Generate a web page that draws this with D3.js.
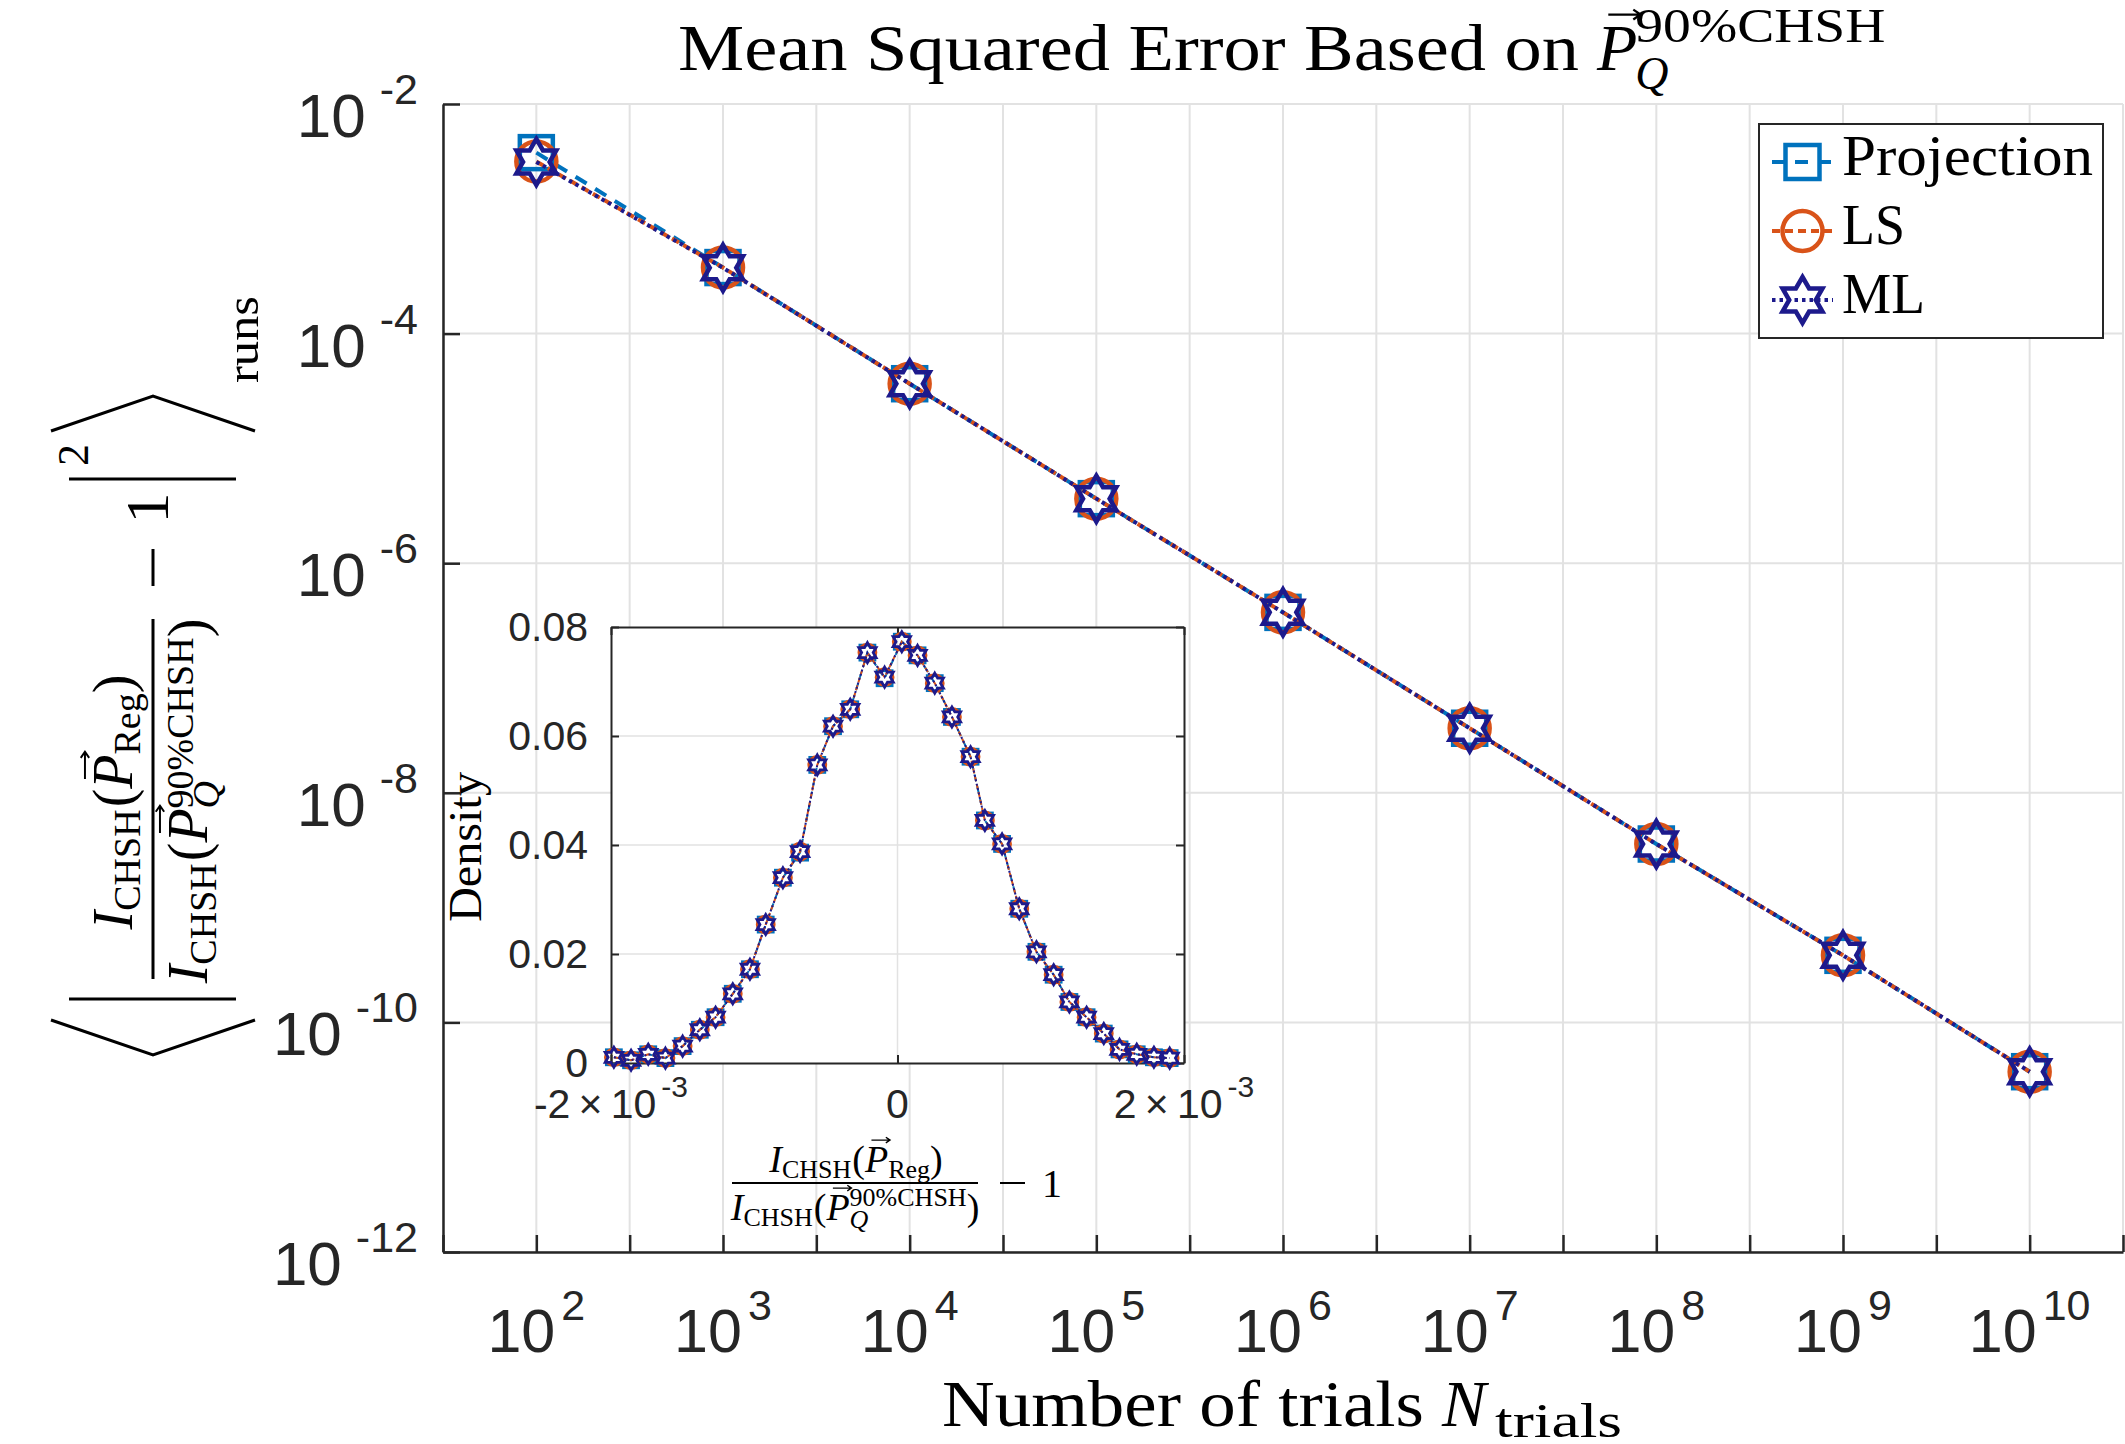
<!DOCTYPE html>
<html><head><meta charset="utf-8">
<script src="https://cdn.jsdelivr.net/npm/d3@7"></script>
<style>body{margin:0;background:#fff}svg{display:block}</style>
</head><body>
<svg id="chart" width="2125" height="1444"></svg>
<script>
// ---------------- data ----------------
const trials = [1e2, 1e3, 1e4, 1e5, 1e6, 1e7, 1e8, 1e9, 1e10];
const mseProjection = [3.77e-3, 3.76e-4, 3.66e-5, 3.65e-6, 3.73e-7, 3.65e-8, 3.58e-9, 3.84e-10, 3.72e-11];
const mseLS         = [3.15e-3, 3.76e-4, 3.66e-5, 3.65e-6, 3.73e-7, 3.65e-8, 3.58e-9, 3.84e-10, 3.72e-11];
const mseML         = [3.13e-3, 3.74e-4, 3.66e-5, 3.65e-6, 3.73e-7, 3.65e-8, 3.58e-9, 3.84e-10, 3.72e-11];
const seriesNames = ["Projection", "LS", "ML"];

const xTickExponents = [1.5, 2, 2.5, 3, 3.5, 4, 4.5, 5, 5.5, 6, 6.5, 7, 7.5, 8, 8.5, 9, 9.5, 10, 10.5];
const xLabelExponents = [2, 3, 4, 5, 6, 7, 8, 9, 10];
const xLabelSup = ["2", "3", "4", "5", "6", "7", "8", "9", "10"];
const yTickExponents = [-2, -4, -6, -8, -10, -12];
const yLabelSup = ["-2", "-4", "-6", "-8", "-10", "-12"];

// inset histogram (relative deviation vs density)
const insetX = [-1.98e-3, -1.86e-3, -1.74e-3, -1.62e-3, -1.50e-3, -1.38e-3, -1.27e-3, -1.15e-3, -1.03e-3, -0.92e-3,
                -0.80e-3, -0.68e-3, -0.56e-3, -0.45e-3, -0.33e-3, -0.21e-3, -0.09e-3, 0.03e-3, 0.14e-3, 0.26e-3,
                0.38e-3, 0.51e-3, 0.61e-3, 0.73e-3, 0.85e-3, 0.97e-3, 1.09e-3, 1.20e-3, 1.32e-3, 1.44e-3,
                1.55e-3, 1.67e-3, 1.79e-3, 1.90e-3];
const densityProjection = [0.00105, 0.0005, 0.0016, 0.0009, 0.0031, 0.0061, 0.0084, 0.0127, 0.0172, 0.0254,
                0.0340, 0.0386, 0.0547, 0.0618, 0.0649, 0.0753, 0.0706, 0.0773, 0.0748, 0.0697,
                0.0635, 0.0562, 0.0445, 0.0402, 0.0283, 0.0204, 0.0162, 0.0112, 0.0084, 0.0054,
                0.0025, 0.0016, 0.00105, 0.0009];
const densityLS = [0.00105, 0.0005, 0.0016, 0.0009, 0.0031, 0.0061, 0.0084, 0.0127, 0.0172, 0.0254,
                0.0340, 0.0388, 0.0547, 0.0618, 0.0649, 0.0753, 0.0708, 0.0773, 0.0748, 0.0697,
                0.0635, 0.0562, 0.0445, 0.0402, 0.0283, 0.0204, 0.0162, 0.0112, 0.0084, 0.0054,
                0.0025, 0.0016, 0.00105, 0.0009];
const densityML = [0.00105, 0.0005, 0.0016, 0.0009, 0.0031, 0.0061, 0.0084, 0.0127, 0.0172, 0.0254,
                0.0340, 0.0388, 0.0547, 0.0618, 0.0649, 0.0753, 0.0708, 0.0773, 0.0748, 0.0697,
                0.0635, 0.0562, 0.0445, 0.0402, 0.0283, 0.0204, 0.0162, 0.0112, 0.0084, 0.0054,
                0.0025, 0.0016, 0.00105, 0.0009];
const insetYTicks = [0, 0.02, 0.04, 0.06, 0.08];
const insetYLabels = ["0", "0.02", "0.04", "0.06", "0.08"];
const insetXTicks = [-2e-3, 0, 2e-3];
const insetXLabelBase = ["-2\u2009\u00D7\u200910", "0", "2\u2009\u00D7\u200910"];
const insetXLabelSup = ["-3", "", "-3"];

// ---------------- setup ----------------
const SERIF = "'Liberation Serif','Times New Roman',serif";
const SANS = "'Liberation Sans',Arial,Helvetica,sans-serif";
const AX = "#262626", GRID = "#e2e2e2";
const colors = {Projection: "#0072BD", LS: "#D95319", ML: "#1d1a8c"};
const dashes = {Projection: "13,10", LS: "8,5", ML: "3.5,4"};
const markers = {Projection: "square", LS: "circle", ML: "hexagram"};

const svg = d3.select("#chart");
svg.append("rect").attr("width", 2125).attr("height", 1444).attr("fill", "#fff");

const M = {left: 443, right: 2123, top: 104, bottom: 1252};
const x = d3.scaleLog().domain([Math.pow(10, 1.5), Math.pow(10, 10.5)]).range([M.left, M.right]);
const y = d3.scaleLog().domain([1e-12, 1e-2]).range([M.bottom, M.top]);

function hexagramPath(R) {
  const pts = [];
  for (let i = 0; i < 12; i++) {
    const a = -Math.PI / 2 + i * Math.PI / 6;
    const r = i % 2 === 0 ? R : R / Math.sqrt(3);
    pts.push([r * Math.cos(a), r * Math.sin(a)]);
  }
  return "M" + pts.map(p => p[0].toFixed(2) + "," + p[1].toFixed(2)).join("L") + "Z";
}
function drawMarker(g, type, cx, cy, color, s) {
  if (type === "square") {
    g.append("rect").attr("x", cx - s.sq / 2).attr("y", cy - s.sq / 2).attr("width", s.sq).attr("height", s.sq)
      .attr("fill", "none").attr("stroke", color).attr("stroke-width", s.w);
  } else if (type === "circle") {
    g.append("circle").attr("cx", cx).attr("cy", cy).attr("r", s.r)
      .attr("fill", "none").attr("stroke", color).attr("stroke-width", s.w);
  } else {
    g.append("path").attr("d", hexagramPath(s.R)).attr("transform", `translate(${cx},${cy})`)
      .attr("fill", "none").attr("stroke", color).attr("stroke-width", s.w).attr("stroke-linejoin", "miter");
  }
}

function mathText(parent, px, py, anchor, parts) {
  const t = parent.append("text").attr("x", px).attr("y", py).attr("text-anchor", anchor)
    .style("font-family", SERIF).attr("fill", "#000");
  let cur = 0, idx = 0;
  const nodes = [];
  parts.forEach((p, i) => {
    const ts = t.append("tspan").text(p.t).style("font-size", p.size + "px");
    if (p.it) ts.style("font-style", "italic");
    if (p.len) ts.attr("textLength", p.len).attr("lengthAdjust", "spacingAndGlyphs");
    const sh = p.sh || 0;
    if (sh !== cur) { ts.attr("dy", -(sh - cur)); cur = sh; }
    let dx = p.dx || 0;
    if (p.back) dx -= nodes[i - 1].node().getComputedTextLength();
    if (dx) ts.attr("dx", dx);
    p._start = idx; idx += p.t.length;
    nodes.push(ts);
  });
  parts.forEach(p => {
    if (p.arrow) {
      const e = t.node().getExtentOfChar(p._start);
      const by = py - (p.sh || 0);
      const ay = by - p.size * 0.84;
      const x0 = e.x + e.width * 0.28, x1 = e.x + e.width * 1.08;
      const h = p.size * 0.11, v = p.size * 0.075;
      parent.append("path")
        .attr("d", `M${x0},${ay}H${x1}M${x1 - h},${ay - v}L${x1},${ay}L${x1 - h},${ay + v}`)
        .attr("stroke", "#000").attr("stroke-width", Math.max(1.4, p.size * 0.035)).attr("fill", "none");
    }
  });
  return t;
}

// ---------------- main axes ----------------
const gGrid = svg.append("g");
xTickExponents.forEach(e => {
  gGrid.append("line").attr("x1", x(Math.pow(10, e))).attr("x2", x(Math.pow(10, e)))
    .attr("y1", M.top).attr("y2", M.bottom).attr("stroke", GRID).attr("stroke-width", 2);
});
yTickExponents.forEach(e => {
  gGrid.append("line").attr("x1", M.left).attr("x2", M.right)
    .attr("y1", y(Math.pow(10, e))).attr("y2", y(Math.pow(10, e))).attr("stroke", GRID).attr("stroke-width", 2);
});

const gx = svg.append("g").attr("transform", `translate(0,${M.bottom})`)
  .call(d3.axisBottom(x).tickValues(xTickExponents.map(e => Math.pow(10, e)))
    .tickSizeInner(-17).tickSizeOuter(0).tickFormat(""));
const gy = svg.append("g").attr("transform", `translate(${M.left},0)`)
  .call(d3.axisLeft(y).tickValues(yTickExponents.map(e => Math.pow(10, e)))
    .tickSizeInner(-17).tickSizeOuter(0).tickFormat(""));
[gx, gy].forEach(g => {
  g.select(".domain").attr("stroke", AX).attr("stroke-width", 2.5);
  g.selectAll(".tick line").attr("stroke", AX).attr("stroke-width", 2.5);
});

// tick labels
xLabelExponents.forEach((e, i) => {
  const t = svg.append("text").attr("x", x(Math.pow(10, e))).attr("y", 1352).attr("text-anchor", "middle")
    .style("font-family", SANS).attr("fill", AX);
  t.append("tspan").text("10").style("font-size", "61px");
  t.append("tspan").text(xLabelSup[i]).style("font-size", "43px").attr("dy", -32).attr("dx", 6);
});
yTickExponents.forEach((e, i) => {
  const t = svg.append("text").attr("x", 418).attr("y", y(Math.pow(10, e)) + 33).attr("text-anchor", "end")
    .style("font-family", SANS).attr("fill", AX);
  t.append("tspan").text("10").style("font-size", "62px");
  t.append("tspan").text(yLabelSup[i]).style("font-size", "43px").attr("dy", -33).attr("dx", 14);
});

// series
const mainSeries = [
  {name: "Projection", values: mseProjection},
  {name: "LS", values: mseLS},
  {name: "ML", values: mseML}
];
const line = d3.line().x(d => x(d[0])).y(d => y(d[1]));
const gPlot = svg.append("g");
mainSeries.forEach(s => {
  const pts = trials.map((n, i) => [n, s.values[i]]);
  gPlot.append("path").attr("d", line(pts)).attr("fill", "none")
    .attr("stroke", colors[s.name]).attr("stroke-width", 4).attr("stroke-dasharray", dashes[s.name]);
  pts.forEach(p => drawMarker(gPlot, markers[s.name], x(p[0]), y(p[1]), colors[s.name], {sq: 33, r: 20, R: 23, w: 4.5}));
});

// ---------------- legend ----------------
const gL = svg.append("g");
gL.append("rect").attr("x", 1759).attr("y", 124).attr("width", 344).attr("height", 214)
  .attr("fill", "#fff").attr("stroke", AX).attr("stroke-width", 2);
const legY = [162, 231, 300];
const legLen = [251, 63, 83];
seriesNames.forEach((n, i) => {
  gL.append("line").attr("x1", 1772).attr("x2", 1833).attr("y1", legY[i]).attr("y2", legY[i])
    .attr("stroke", colors[n]).attr("stroke-width", 4).attr("stroke-dasharray", dashes[n]);
  drawMarker(gL, markers[n], 1802.5, legY[i], colors[n], {sq: 34, r: 20, R: 23, w: 4.5});
  gL.append("text").attr("x", 1842).attr("y", legY[i] + 13).style("font-family", SERIF)
    .style("font-size", "56px").attr("textLength", legLen[i]).attr("lengthAdjust", "spacingAndGlyphs").text(n);
});

// ---------------- title ----------------
svg.append("text").attr("x", 678).attr("y", 70).style("font-family", SERIF).style("font-size", "66px")
  .attr("textLength", 901).attr("lengthAdjust", "spacingAndGlyphs").text("Mean Squared Error Based on");
mathText(svg, 1597, 70, "start", [
  {t: "P", size: 66, it: true, arrow: true},
  {t: "Q", size: 46, it: true, sh: -19, dx: -2},
  {t: "90%CHSH", size: 48, sh: 28, back: true, len: 250}
]);

// ---------------- x label ----------------
svg.append("text").attr("x", 942).attr("y", 1426).style("font-family", SERIF).style("font-size", "66px")
  .attr("textLength", 482).attr("lengthAdjust", "spacingAndGlyphs").text("Number of trials");
svg.append("text").attr("x", 1442).attr("y", 1426).style("font-family", SERIF).style("font-size", "66px")
  .style("font-style", "italic").text("N");
svg.append("text").attr("x", 1495).attr("y", 1437).style("font-family", SERIF).style("font-size", "48px")
  .attr("textLength", 127).attr("lengthAdjust", "spacingAndGlyphs").text("trials");

// ---------------- y label (rotated) ----------------
const gYL = svg.append("g").attr("transform", "translate(153,1055) rotate(-90)");
const stroke = (d, w) => gYL.append("path").attr("d", d).attr("fill", "none").attr("stroke", "#000").attr("stroke-width", w);
stroke("M35,-102L0,0L35,102", 3);
stroke("M56,-84L56,83", 3);
stroke("M76,0L436,0", 3);
stroke("M469,0L506,0", 3);
stroke("M576,-84L576,83", 3);
stroke("M624,-102L659,0L624,102", 3);
mathText(gYL, 253, -21, "middle", [
  {t: "I", size: 56, it: true},
  {t: "CHSH", size: 38, sh: -8},
  {t: "(", size: 56, dx: 2},
  {t: "P", size: 56, it: true, arrow: true},
  {t: "Reg", size: 38, sh: -8},
  {t: ")", size: 56}
]);
mathText(gYL, 254, 54, "middle", [
  {t: "I", size: 56, it: true},
  {t: "CHSH", size: 38, sh: -9},
  {t: "(", size: 56, dx: 2},
  {t: "P", size: 56, it: true, arrow: true},
  {t: "Q", size: 38, it: true, sh: -12},
  {t: "90%CHSH", size: 38, sh: 14, back: true},
  {t: ")", size: 56}
]);
gYL.append("text").attr("x", 547).attr("y", 15).attr("text-anchor", "middle").style("font-family", SERIF)
  .style("font-size", "62px").text("1");
gYL.append("text").attr("x", 600).attr("y", -65).attr("text-anchor", "middle").style("font-family", SERIF)
  .style("font-size", "44px").text("2");
gYL.append("text").attr("x", 672).attr("y", 105).style("font-family", SERIF)
  .style("font-size", "46px").attr("textLength", 87).attr("lengthAdjust", "spacingAndGlyphs").text("runs");

// ---------------- inset ----------------
const I = {left: 611, right: 1184, top: 627, bottom: 1063};
const ix = d3.scaleLinear().domain([-2e-3, 2e-3]).range([I.left, I.right]);
const iy = d3.scaleLinear().domain([0, 0.08]).range([I.bottom, I.top]);
const gI = svg.append("g");
gI.append("rect").attr("x", I.left).attr("y", I.top).attr("width", I.right - I.left).attr("height", I.bottom - I.top)
  .attr("fill", "#fff");
insetYTicks.slice(1, -1).forEach(v => gI.append("line").attr("x1", I.left).attr("x2", I.right)
  .attr("y1", iy(v)).attr("y2", iy(v)).attr("stroke", GRID).attr("stroke-width", 1.5));
gI.append("line").attr("x1", ix(0)).attr("x2", ix(0)).attr("y1", I.top).attr("y2", I.bottom)
  .attr("stroke", GRID).attr("stroke-width", 1.5);

const gix = gI.append("g").attr("transform", `translate(0,${I.bottom})`)
  .call(d3.axisBottom(ix).tickValues(insetXTicks).tickSizeInner(-8).tickSizeOuter(0).tickFormat(""));
const gixT = gI.append("g").attr("transform", `translate(0,${I.top})`)
  .call(d3.axisTop(ix).tickValues(insetXTicks).tickSizeInner(-8).tickSizeOuter(0).tickFormat(""));
const giy = gI.append("g").attr("transform", `translate(${I.left},0)`)
  .call(d3.axisLeft(iy).tickValues(insetYTicks).tickSizeInner(-8).tickSizeOuter(0).tickFormat(""));
const giyR = gI.append("g").attr("transform", `translate(${I.right},0)`)
  .call(d3.axisRight(iy).tickValues(insetYTicks).tickSizeInner(-8).tickSizeOuter(0).tickFormat(""));
[gix, gixT, giy, giyR].forEach(g => {
  g.select(".domain").attr("stroke", AX).attr("stroke-width", 2);
  g.selectAll(".tick line").attr("stroke", AX).attr("stroke-width", 2);
});

const insetSeries = [
  {name: "Projection", values: densityProjection},
  {name: "LS", values: densityLS},
  {name: "ML", values: densityML}
];
const iline = d3.line().x(d => ix(d[0])).y(d => iy(d[1]));
insetSeries.forEach(s => {
  const pts = insetX.map((v, i) => [v, s.values[i]]);
  gI.append("path").attr("d", iline(pts)).attr("fill", "none").attr("stroke", colors[s.name])
    .attr("stroke-width", 2).attr("stroke-dasharray", s.name === "Projection" ? "7,5" : s.name === "LS" ? "5,3" : "2,2.5");
  pts.forEach(p => drawMarker(gI, markers[s.name], ix(p[0]), iy(p[1]), colors[s.name], {sq: 15, r: 8.5, R: 10, w: 2.8}));
});

// inset tick labels
insetYTicks.forEach((v, i) => {
  gI.append("text").attr("x", 588).attr("y", iy(v) + 14).attr("text-anchor", "end")
    .style("font-family", SANS).style("font-size", "41px").attr("fill", AX).text(insetYLabels[i]);
});
insetXTicks.forEach((v, i) => {
  const t = gI.append("text").attr("x", ix(v)).attr("y", 1118).attr("text-anchor", "middle")
    .style("font-family", SANS).attr("fill", AX);
  t.append("tspan").text(insetXLabelBase[i]).style("font-size", "41px");
  if (insetXLabelSup[i]) t.append("tspan").text(insetXLabelSup[i]).style("font-size", "30px").attr("dy", -21).attr("dx", 5);
});

// inset y label
gI.append("text").attr("transform", "translate(481,847) rotate(-90)").attr("text-anchor", "middle")
  .style("font-family", SERIF).style("font-size", "46px").attr("textLength", 150).attr("lengthAdjust", "spacingAndGlyphs")
  .text("Density");

// inset x label (fraction)
mathText(gI, 856, 1172, "middle", [
  {t: "I", size: 38, it: true},
  {t: "CHSH", size: 26, sh: -6},
  {t: "(", size: 38, dx: 1},
  {t: "P", size: 38, it: true, arrow: true},
  {t: "Reg", size: 26, sh: -6},
  {t: ")", size: 38}
]);
mathText(gI, 855, 1220, "middle", [
  {t: "I", size: 38, it: true},
  {t: "CHSH", size: 26, sh: -6},
  {t: "(", size: 38, dx: 1},
  {t: "P", size: 38, it: true, arrow: true},
  {t: "Q", size: 26, it: true, sh: -8},
  {t: "90%CHSH", size: 26, sh: 14, back: true},
  {t: ")", size: 38}
]);
gI.append("line").attr("x1", 732).attr("x2", 978).attr("y1", 1183).attr("y2", 1183).attr("stroke", "#000").attr("stroke-width", 2);
gI.append("line").attr("x1", 1000).attr("x2", 1025).attr("y1", 1183).attr("y2", 1183).attr("stroke", "#000").attr("stroke-width", 2);
gI.append("text").attr("x", 1052).attr("y", 1197).attr("text-anchor", "middle").style("font-family", SERIF)
  .style("font-size", "40px").text("1");
</script>
</body></html>
